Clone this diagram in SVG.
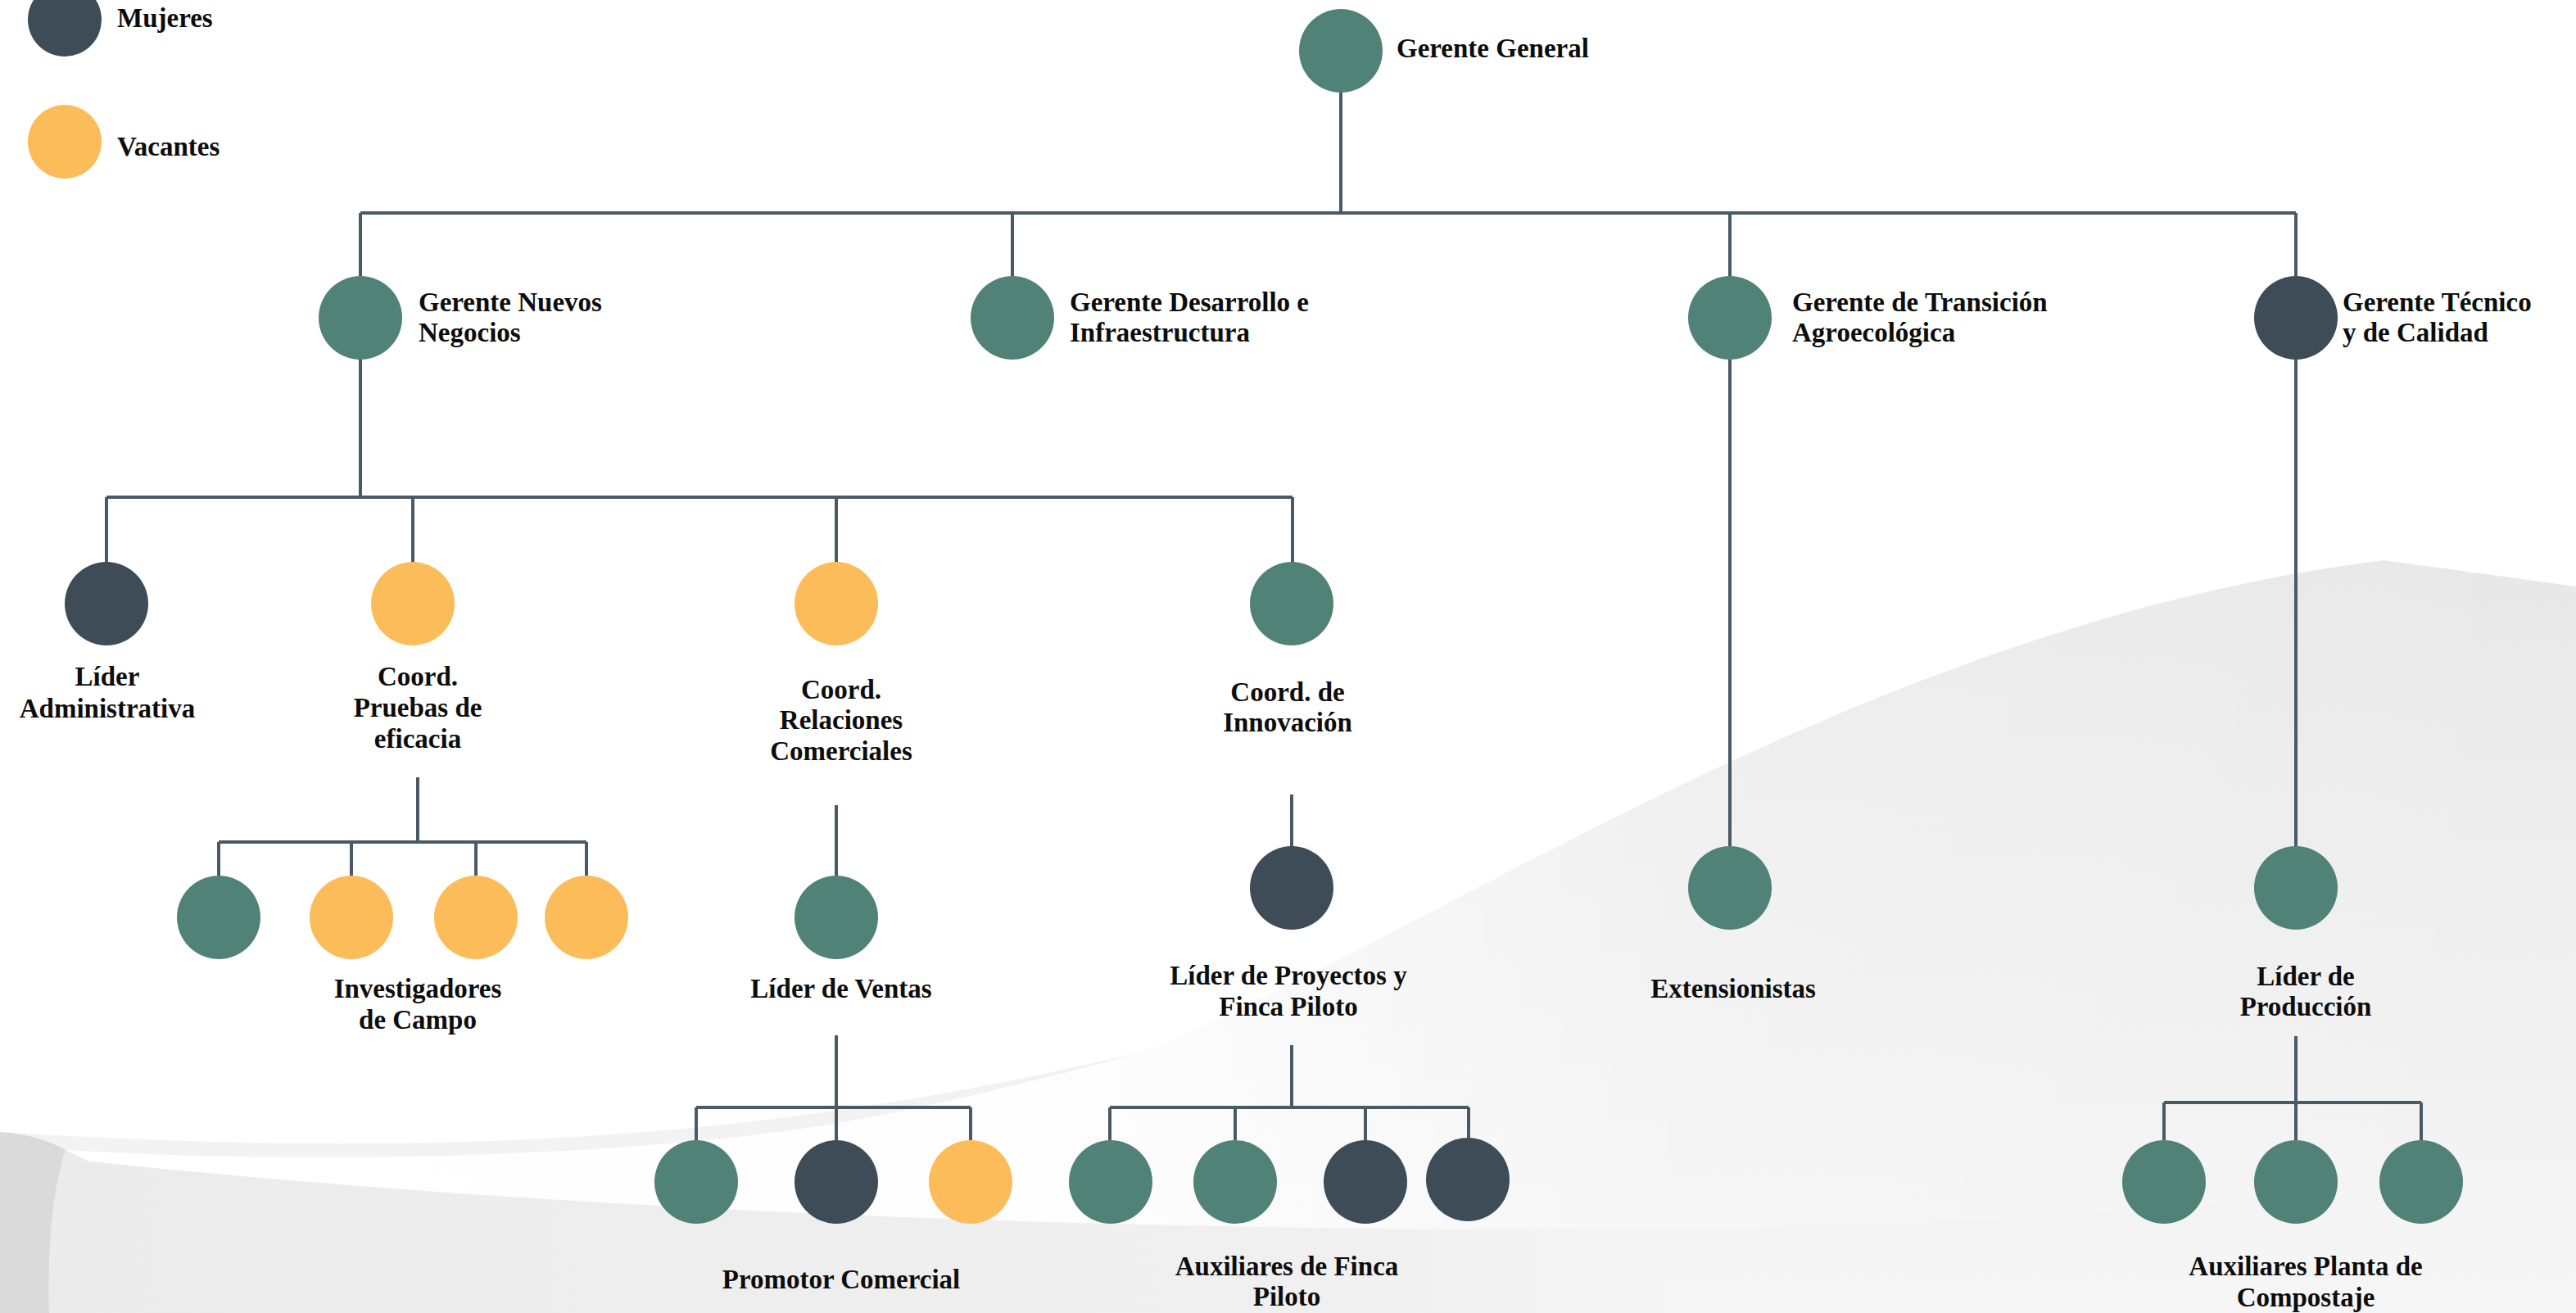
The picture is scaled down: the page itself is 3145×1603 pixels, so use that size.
<svg xmlns="http://www.w3.org/2000/svg" width="3145" height="1603" viewBox="0 0 3145 1603">
<style>
.t{font-family:"Liberation Serif","Times New Roman",serif;font-weight:bold;font-size:33px;fill:#0d0d0d}
.m{text-anchor:middle}
.g{fill:#508278}
.d{fill:#3d4c57}
.y{fill:#fdbc5a}
.c{stroke:#4a5a65;stroke-width:4;fill:none}
</style>
<defs>
<linearGradient id="bg" gradientUnits="userSpaceOnUse" x1="0" y1="700" x2="0" y2="1603">
<stop offset="0" stop-color="#e7e8e7"/>
<stop offset="1" stop-color="#f6f6f6"/>
</linearGradient>
<linearGradient id="lg" gradientUnits="userSpaceOnUse" x1="0" y1="0" x2="2030" y2="0">
<stop offset="0" stop-color="#ebebeb"/>
<stop offset="0.8" stop-color="#f0f0f0"/>
<stop offset="1" stop-color="#f5f5f5"/>
</linearGradient>
<linearGradient id="wb" gradientUnits="userSpaceOnUse" x1="0" y1="0" x2="3145" y2="0">
<stop offset="0" stop-color="#ffffff" stop-opacity="1"/>
<stop offset="0.4" stop-color="#ffffff" stop-opacity="0.9"/>
<stop offset="0.65" stop-color="#ffffff" stop-opacity="0.2"/>
<stop offset="1" stop-color="#ffffff" stop-opacity="0"/>
</linearGradient>
</defs>
<rect width="3145" height="1603" fill="#ffffff"/>
<g id="background">
<path d="M0,1382 C600,1420 1000,1380 1410,1280 C1800,1110 2300,760 2910,684 L3145,716 L3145,1603 L0,1603 Z" fill="url(#bg)"/>
<path d="M0,1382 C30,1384 55,1390 80,1404 C65,1450 58,1520 60,1603 L0,1603 Z" fill="#dadada"/>
<path d="M80,1404 C300,1418 700,1420 1000,1375 C1150,1350 1300,1310 1410,1280 C1800,1110 2300,760 2910,684 L3145,716 L3145,1430 C2700,1480 2300,1500 2030,1500 C1400,1505 700,1480 110,1418 Z" fill="url(#wb)"/>
<path d="M60,1603 C58,1520 65,1450 80,1404 C90,1410 100,1415 110,1418 C700,1480 1400,1505 2030,1500 L2030,1603 Z" fill="url(#lg)"/>
</g>
<g id="connectors" class="c">
<path d="M1637,113 V260 M440,260 H2803 M440,260 V337 M1236,260 V337 M2112,260 V337 M2803,260 V337"/>
<path d="M440,438 V607 M130,607 H1578 M130,607 V687 M504,607 V687 M1021,607 V687 M1578,607 V687"/>
<path d="M510,949 V1028 M267,1028 H716 M267,1028 V1069 M429,1028 V1069 M581,1028 V1069 M716,1028 V1069"/>
<path d="M1021,983 V1069 M1577,970 V1033 M2112,438 V1033 M2803,438 V1033"/>
<path d="M1021,1264 V1392 M850,1352 H1185 M850,1352 V1392 M1185,1352 V1392"/>
<path d="M1577,1276 V1352 M1355,1352 H1793 M1355,1352 V1392 M1508,1352 V1392 M1667,1352 V1392 M1793,1352 V1389"/>
<path d="M2803,1265 V1392 M2642,1346 H2956 M2642,1346 V1392 M2956,1346 V1392"/>
</g>
<g id="legend">
<circle class="d" cx="79" cy="24" r="45"/>
<text class="t" x="143" y="33">Mujeres</text>
<circle class="y" cx="79" cy="173" r="45"/>
<text class="t" x="143" y="190">Vacantes</text>
</g>
<g id="gerente-general">
<circle class="g" cx="1637" cy="62" r="51"/>
<text class="t" x="1705" y="70">Gerente General</text>
</g>
<g id="gerente-nuevos-negocios">
<circle class="g" cx="440" cy="388" r="51"/>
<text class="t" x="511" y="380">Gerente Nuevos</text>
<text class="t" x="511" y="417">Negocios</text>
</g>
<g id="gerente-desarrollo">
<circle class="g" cx="1236" cy="388" r="51"/>
<text class="t" x="1306" y="380">Gerente Desarrollo e</text>
<text class="t" x="1306" y="417">Infraestructura</text>
</g>
<g id="gerente-transicion">
<circle class="g" cx="2112" cy="388" r="51"/>
<text class="t" x="2188" y="380">Gerente de Transición</text>
<text class="t" x="2188" y="417">Agroecológica</text>
</g>
<g id="gerente-tecnico">
<circle class="d" cx="2803" cy="388" r="51"/>
<text class="t" x="2860" y="380">Gerente Técnico</text>
<text class="t" x="2860" y="417">y de Calidad</text>
</g>
<g id="lider-administrativa">
<circle class="d" cx="130" cy="737" r="51"/>
<text class="t m" x="131" y="837">Líder</text>
<text class="t m" x="131" y="876">Administrativa</text>
</g>
<g id="coord-pruebas">
<circle class="y" cx="504" cy="737" r="51"/>
<text class="t m" x="510" y="837">Coord.</text>
<text class="t m" x="510" y="875">Pruebas de</text>
<text class="t m" x="510" y="913">eficacia</text>
</g>
<g id="coord-relaciones">
<circle class="y" cx="1021" cy="737" r="51"/>
<text class="t m" x="1027" y="853">Coord.</text>
<text class="t m" x="1027" y="890">Relaciones</text>
<text class="t m" x="1027" y="928">Comerciales</text>
</g>
<g id="coord-innovacion">
<circle class="g" cx="1577" cy="737" r="51"/>
<text class="t m" x="1572" y="856">Coord. de</text>
<text class="t m" x="1572" y="893">Innovación</text>
</g>
<g id="investigadores">
<circle class="g" cx="267" cy="1120" r="51"/>
<circle class="y" cx="429" cy="1120" r="51"/>
<circle class="y" cx="581" cy="1120" r="51"/>
<circle class="y" cx="716" cy="1120" r="51"/>
<text class="t m" x="510" y="1218">Investigadores</text>
<text class="t m" x="510" y="1256">de Campo</text>
</g>
<g id="lider-ventas">
<circle class="g" cx="1021" cy="1120" r="51"/>
<text class="t m" x="1027" y="1218">Líder de Ventas</text>
</g>
<g id="lider-proyectos">
<circle class="d" cx="1577" cy="1084" r="51"/>
<text class="t m" x="1573" y="1202">Líder de Proyectos y</text>
<text class="t m" x="1573" y="1240">Finca Piloto</text>
</g>
<g id="extensionistas">
<circle class="g" cx="2112" cy="1084" r="51"/>
<text class="t m" x="2116" y="1218">Extensionistas</text>
</g>
<g id="lider-produccion">
<circle class="g" cx="2803" cy="1084" r="51"/>
<text class="t m" x="2815" y="1203">Líder de</text>
<text class="t m" x="2815" y="1240">Producción</text>
</g>
<g id="promotor-comercial">
<circle class="g" cx="850" cy="1443" r="51"/>
<circle class="d" cx="1021" cy="1443" r="51"/>
<circle class="y" cx="1185" cy="1443" r="51"/>
<text class="t m" x="1027" y="1573">Promotor Comercial</text>
</g>
<g id="auxiliares-finca">
<circle class="g" cx="1356" cy="1443" r="51"/>
<circle class="g" cx="1508" cy="1443" r="51"/>
<circle class="d" cx="1667" cy="1443" r="51"/>
<circle class="d" cx="1792" cy="1440" r="51"/>
<text class="t m" x="1571" y="1557">Auxiliares de Finca</text>
<text class="t m" x="1571" y="1594">Piloto</text>
</g>
<g id="auxiliares-compostaje">
<circle class="g" cx="2642" cy="1443" r="51"/>
<circle class="g" cx="2803" cy="1443" r="51"/>
<circle class="g" cx="2956" cy="1443" r="51"/>
<text class="t m" x="2815" y="1557">Auxiliares Planta de</text>
<text class="t m" x="2815" y="1595">Compostaje</text>
</g>
</svg>
